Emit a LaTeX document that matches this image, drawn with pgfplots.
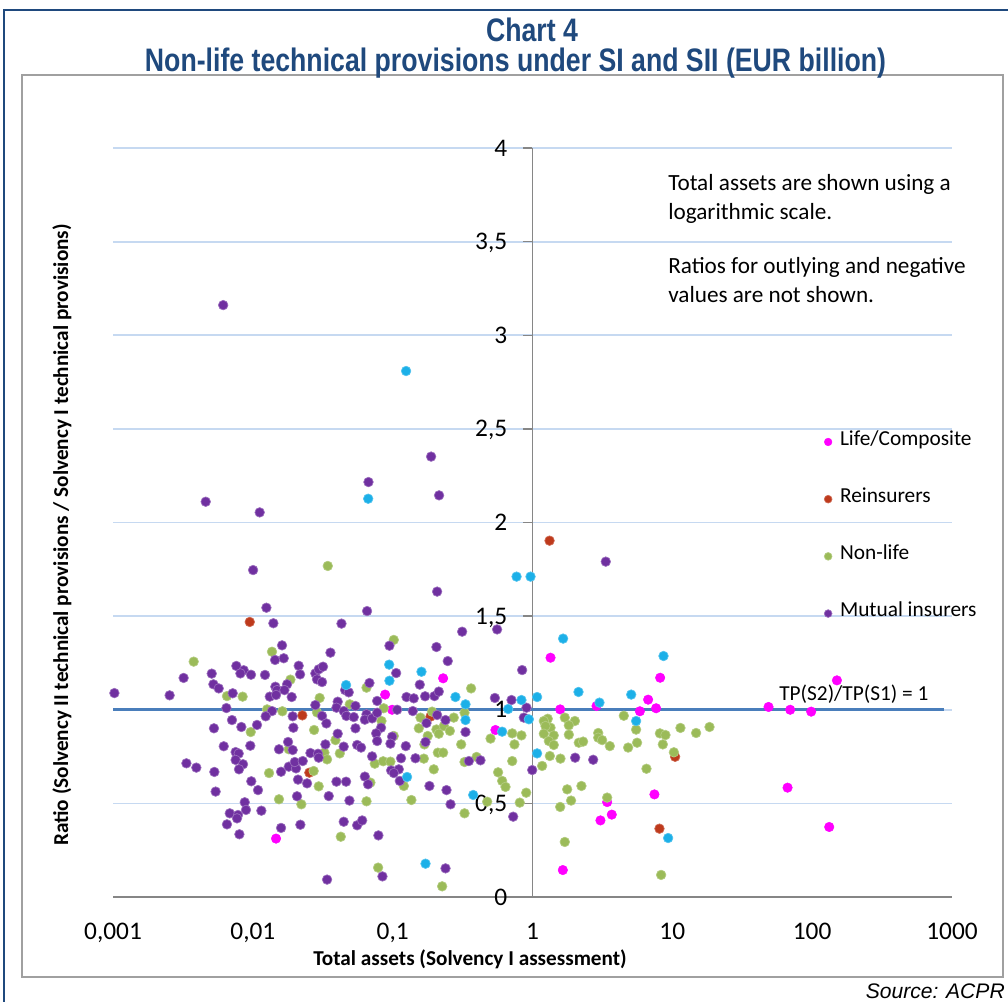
\documentclass[border=0pt]{standalone}
\usepackage{fontspec}
\usepackage{pgfplots}
\pgfplotsset{compat=1.18}
\setmainfont{Carlito}
\newfontfamily\titlefont[FakeStretch=0.82]{Liberation Sans}
\newfontfamily\arialfont{Liberation Sans}
\definecolor{titleblue}{HTML}{1F497D}
\definecolor{gridblue}{HTML}{C6D9F1}
\definecolor{refblue}{HTML}{4A7EBB}
\definecolor{axisgray}{HTML}{868686}
\definecolor{framegray}{HTML}{A0A0A0}
\definecolor{cMag}{HTML}{FF00FF}
\definecolor{cRed}{HTML}{BE3A1C}
\definecolor{cGreen}{HTML}{9BBB59}
\definecolor{cPurple}{HTML}{7030A0}
\definecolor{cCyan}{HTML}{1CB0E8}
\begin{document}
\begin{tikzpicture}[x=0.75pt,y=-0.75pt]
\useasboundingbox (0,0) rectangle (1008,1001);
% frames
\draw[titleblue, line width=2.2pt] (4,1010) -- (4,10) -- (1015,10);
\draw[framegray, line width=1.1pt] (22,75) rectangle (1003,977);
% title
\node[anchor=base, text=titleblue, font=\titlefont\bfseries\fontsize{24.4pt}{28pt}\selectfont, inner sep=0pt] at (532,41) {Chart 4};
\node[anchor=base, text=titleblue, font=\titlefont\bfseries\fontsize{24.4pt}{28pt}\selectfont, inner sep=0pt] at (515.5,71) {Non-life technical provisions under SI and SII (EUR billion)};
\begin{axis}[
  at={(84.75pt,-672.75pt)}, anchor=south west, scale only axis,
  width=629.25pt, height=561.75pt,
  xmin=-3, xmax=3, ymin=0, ymax=4,
  axis line style={draw=none},
  xtick=\empty,
  ytick={0.5,1,1.5,2,2.5,3,3.5,4}, yticklabels=\empty,
  major tick length=0pt,
  ymajorgrids, major grid style={gridblue, line width=1.3pt},
  clip=false,
  legend style={at={(0.8478,0.620)}, anchor=north west, draw=none, fill=none,
    inner sep=0pt, outer sep=0pt, row sep=28.9pt, column sep=4pt,
    font=\fontsize{16pt}{19pt}\selectfont,
    nodes={inner sep=2pt, text height=0.75em, text depth=0.25em}},
  legend cell align=left,
  legend image code/.code={\draw[#1, mark size=2.9pt] plot coordinates {(0pt,0pt)};},
  mk/.style={only marks, mark=*, mark size=3.6pt},
]
% axes
\draw[axisgray, line width=1.1pt] (axis cs:-3,0) -- (axis cs:3,0);
\draw[axisgray, line width=1.1pt] (axis cs:0,0) -- (axis cs:0,4);
\pgfplotsinvokeforeach{0,0.5,1,1.5,2,2.5,3,3.5,4}{
  \draw[axisgray, line width=1.1pt] (axis cs:0,#1) -- ++(-6.75pt,0pt);
}
% reference line
\addplot[refblue, line width=1.9pt, forget plot] coordinates {(-3,1) (2.94,1)};
% Life/Composite
\addplot[mk, mark options={fill=cMag, draw=cMag, line width=0.3pt}] coordinates {
(-1.834,0.312) (-1.054,1.081) (-1.004,1.000) (-0.639,1.168) (-0.265,0.892)
(0.129,1.278) (0.913,1.171) (0.827,1.054) (0.458,1.020) (0.198,1.002)
(0.768,0.992) (0.884,1.008) (0.534,0.507) (0.872,0.548) (0.486,0.409)
(0.567,0.440) (0.217,0.144)
(2.177,1.157) (1.688,1.015) (1.843,1.000) (1.993,0.990) (1.824,0.584) (2.122,0.374)
};
\addlegendentry{Life/Composite}
% Reinsurers
\addplot[mk, mark options={fill=cRed, draw=cRed!75!white, line width=0.5pt}] coordinates {
(-2.022,1.469) (-1.646,0.970) (-1.596,0.664) (-0.730,0.963)
(1.020,0.749) (0.908,0.365) (0.122,1.903)
};
\addlegendentry{Reinsurers}
% Non-life
\addplot[mk, mark options={fill=cGreen, draw=cGreen!75!white, line width=0.5pt}] coordinates {
(-1.464,1.768)
(-1.863,1.310) (-2.423,1.257) (-1.731,1.161) (-2.185,1.073) (-2.073,1.070)
(-1.522,1.063) (-1.898,1.002) (-1.789,0.992) (-1.541,0.986) (-2.015,0.881)
(-1.562,0.892) (-1.743,0.789) (-1.884,0.662) (-1.488,0.771) (-1.469,0.735)
(-1.565,0.673) (-1.529,0.591) (-1.813,0.522) (-1.653,0.495)
(-0.992,1.373) (-1.187,1.118) (-1.307,1.029) (-1.064,1.008) (-1.080,0.940)
(-0.801,0.958) (-0.718,0.990) (-0.687,0.895) (-0.992,0.860) (-1.409,0.838)
(-0.813,0.901) (-0.749,0.860) (-0.773,0.815) (-0.670,0.872) (-1.378,0.767)
(-0.677,0.771) (-0.777,0.739) (-1.128,0.712) (-1.068,0.725) (-1.016,0.723)
(-0.706,0.682) (-1.159,0.611) (-0.920,0.593) (-1.187,0.511) (-0.866,0.518)
(-1.371,0.322) (-1.104,0.157)
(-0.439,1.114) (-0.563,0.958) (-0.486,0.984) (-0.634,0.913) (-0.591,0.887)
(-0.300,0.846) (-0.145,0.874) (-0.079,0.863) (-0.129,0.815) (-0.510,0.815)
(-0.639,0.771) (-0.486,0.721) (-0.400,0.748) (-0.145,0.726) (-0.246,0.666)
(-0.217,0.620) (-0.193,0.588) (-0.045,0.557) (-0.091,0.504) (-0.324,0.509)
(-0.486,0.447) (-0.646,0.057)
(0.653,0.968) (0.109,0.952) (0.081,0.940) (0.129,0.904) (0.093,0.913)
(0.081,0.872) (0.152,0.863) (0.117,0.833) (0.152,0.812) (0.231,0.958)
(0.303,0.940) (0.260,0.917) (0.260,0.867) (0.470,0.876) (0.470,0.851)
(0.498,0.838) (0.331,0.824) (0.362,0.830) (0.553,0.806) (0.741,0.894)
(0.748,0.824) (0.684,0.798) (0.911,0.874) (0.951,0.865) (0.932,0.815)
(1.058,0.903) (1.170,0.876) (1.266,0.908) (1.011,0.773) (0.124,0.753)
(0.200,0.739) (0.069,0.700) (0.815,0.685) (0.248,0.575) (0.350,0.593)
(0.276,0.515) (0.198,0.481) (0.534,0.531) (0.231,0.294) (0.920,0.118)
};
\addlegendentry{Non-life}
% Mutual insurers
\addplot[mk, mark options={fill=cPurple, draw=cPurple!70!white, line width=0.5pt}] coordinates {
(-2.990,1.089)
(-2.212,3.161) (-0.725,2.352) (-1.173,2.216) (-0.668,2.145) (-2.337,2.111)
(-1.951,2.054) (-1.998,1.746) (0.524,1.791)
(-1.903,1.545) (-1.853,1.462) (-1.791,1.344) (-1.841,1.266) (-1.779,1.275)
(-2.118,1.234) (-2.065,1.211) (-2.089,1.194) (-2.013,1.187) (-2.294,1.193)
(-2.495,1.170) (-1.913,1.186) (-2.282,1.136) (-2.244,1.114) (-1.755,1.136)
(-1.839,1.123) (-1.827,1.105) (-1.774,1.105) (-1.672,1.235) (-1.662,1.189)
(-1.553,1.194) (-1.529,1.216) (-1.498,1.230) (-1.541,1.162) (-1.505,1.148)
(-1.445,1.305) (-2.595,1.077) (-2.144,1.088) (-1.879,1.070) (-1.834,1.079)
(-1.722,1.068) (-1.553,1.025) (-2.189,1.009) (-1.863,0.993) (-1.908,0.965)
(-1.715,0.965) (-1.505,0.967) (-1.474,0.927) (-2.149,0.945) (-2.278,0.901)
(-2.082,0.908) (-1.970,0.919) (-1.710,0.904) (-2.208,0.805) (-2.018,0.808)
(-1.748,0.828) (-1.813,0.789) (-1.715,0.785) (-1.481,0.815) (-2.123,0.774)
(-2.101,0.766) (-2.123,0.732) (-2.070,0.709) (-2.099,0.682) (-2.475,0.714)
(-2.404,0.691) (-2.275,0.668) (-1.798,0.669) (-1.743,0.696) (-1.691,0.687)
(-1.700,0.721) (-1.643,0.726) (-1.588,0.769) (-1.534,0.765) (-1.529,0.744)
(-1.677,0.627) (-1.612,0.607) (-2.011,0.618) (-1.963,0.571) (-2.266,0.563)
(-1.684,0.538) (-1.457,0.539) (-2.058,0.506) (-2.049,0.465) (-2.165,0.447)
(-2.106,0.438) (-2.113,0.420) (-1.939,0.461) (-2.185,0.388) (-2.096,0.335)
(-1.798,0.369) (-1.660,0.386) (-1.469,0.093)
(-0.682,1.631) (-1.183,1.527) (-1.366,1.460) (-1.023,1.342) (-0.687,1.335)
(-0.975,1.196) (-1.166,1.143) (-1.340,1.105) (-1.314,1.093) (-0.806,1.134)
(-0.901,1.068) (-0.849,1.061) (-0.768,1.072) (-0.701,1.073) (-1.393,1.043)
(-1.111,1.047) (-1.266,1.020) (-1.402,1.011) (-0.968,1.000) (-0.856,0.993)
(-1.350,0.993) (-1.331,0.967) (-1.278,0.961) (-1.187,0.976) (-1.199,0.947)
(-1.147,0.954) (-1.111,0.984) (-0.758,0.929) (-0.682,0.972) (-1.266,0.901)
(-1.083,0.904) (-1.118,0.874) (-1.004,0.856) (-1.393,0.872) (-1.111,0.833)
(-1.016,0.819) (-0.906,0.806) (-0.765,0.828) (-1.350,0.803) (-1.254,0.812)
(-1.226,0.798) (-1.147,0.751) (-0.940,0.741) (-0.837,0.741) (-1.011,0.676)
(-0.956,0.682) (-0.992,0.662) (-1.199,0.643) (-1.176,0.602) (-1.402,0.616)
(-1.333,0.616) (-0.949,0.620) (-0.737,0.593) (-1.309,0.515) (-1.350,0.402)
(-1.254,0.383) (-1.218,0.409) (-1.102,0.329) (-1.073,0.110) (-0.670,1.097)
(-0.503,1.417) (-0.253,1.429) (-0.606,1.260) (-0.074,1.212) (-0.269,1.063)
(-0.150,1.052) (-0.043,1.011) (-0.062,0.958) (-0.622,0.945) (-0.479,0.881)
(-0.455,0.726) (-0.372,0.730) (-0.002,0.678) (-0.615,0.571) (-0.586,0.495)
(-0.138,0.429) (-0.622,0.153)
(0.305,0.744) (0.434,0.733)
};
\addlegendentry{Mutual insurers}
% unlabelled (cyan)
\addplot[mk, forget plot, mark options={fill=cCyan, draw=cCyan!75!white, line width=0.5pt}] coordinates {
(-0.904,2.809) (-1.175,2.127)
(-1.025,1.241) (-0.794,1.203) (-1.333,1.132) (-1.023,1.155) (-0.897,0.641) (-0.765,0.178)
(-0.114,1.711) (-0.014,1.711) (-0.551,1.068) (-0.479,1.029) (-0.079,1.052)
(0.033,1.068) (-0.174,1.004) (-0.026,0.949) (-0.479,0.945) (-0.217,0.883)
(0.033,0.767) (-0.424,0.545)
(0.219,1.380) (0.937,1.287) (0.329,1.095) (0.706,1.081) (0.479,1.038)
(0.741,0.940) (0.970,0.315)
};
% tick labels
\tikzset{ylab/.style={anchor=base east, inner sep=0pt, font=\fontsize{19pt}{22pt}\selectfont, xshift=-18.75pt, yshift=-6pt},
         xlab/.style={anchor=base, inner sep=0pt, font=\fontsize{19pt}{22pt}\selectfont, yshift=-31.5pt}}
\node[ylab] at (axis cs:0,0) {0};
\node[ylab] at (axis cs:0,0.5) {0,5};
\node[ylab] at (axis cs:0,1) {1};
\node[ylab] at (axis cs:0,1.5) {1,5};
\node[ylab] at (axis cs:0,2) {2};
\node[ylab] at (axis cs:0,2.5) {2,5};
\node[ylab] at (axis cs:0,3) {3};
\node[ylab] at (axis cs:0,3.5) {3,5};
\node[ylab] at (axis cs:0,4) {4};
\node[xlab] at (axis cs:-3,0) {0,001};
\node[xlab] at (axis cs:-2,0) {0,01};
\node[xlab] at (axis cs:-1,0) {0,1};
\node[xlab] at (axis cs:0,0) {1};
\node[xlab] at (axis cs:1,0) {10};
\node[xlab] at (axis cs:2,0) {100};
\node[xlab] at (axis cs:3,0) {1000};
\end{axis}
% axis titles
\node[font=\bfseries\fontsize{15.9pt}{18pt}\selectfont, inner sep=0pt] at (470,959) {Total assets (Solvency I assessment)};
\node[font=\bfseries\fontsize{15.9pt}{18pt}\selectfont, inner sep=0pt, rotate=90] at (62,535) {Ratio (Solvency II technical provisions / Solvency I technical provisions)};
% annotations
\begin{scope}[every node/.style={anchor=base west, inner sep=0pt, font=\fontsize{17.4pt}{20pt}\selectfont}]
\node at (668,190) {Total assets are shown using a};
\node at (668,219) {logarithmic scale.};
\node at (668,273) {Ratios for outlying and negative};
\node at (668,302) {values are not shown.};
\end{scope}
\node[anchor=base west, inner sep=0pt, font=\fontsize{16pt}{19pt}\selectfont] at (779,700) {TP(S2)/TP(S1) = 1};
\node[anchor=base east, inner sep=0pt, font=\arialfont\itshape\fontsize{15.8pt}{18pt}\selectfont] at (1005,998) {Source: ACPR};
\end{tikzpicture}
\end{document}
